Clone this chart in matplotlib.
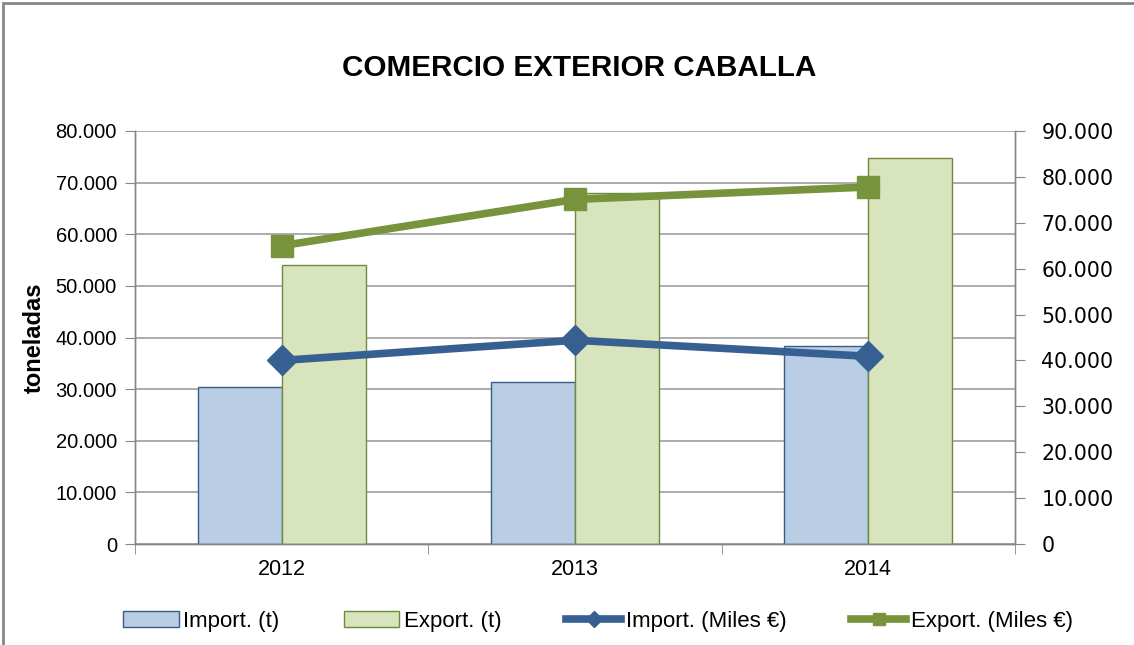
import matplotlib
matplotlib.use("Agg")
import matplotlib.pyplot as plt
import numpy as np
from matplotlib.patches import Rectangle
from matplotlib.ticker import FuncFormatter, FixedLocator

years = ["2012", "2013", "2014"]
import_t = [30500, 31300, 38400]
export_t = [54000, 68000, 74800]
import_eur = [40000, 44400, 40900]
export_eur = [65000, 75100, 77800]

plt.rcParams['font.family'] = ['Liberation Sans', 'DejaVu Sans']

fig = plt.figure(figsize=(11.34, 6.45), dpi=100)
ax = fig.add_axes([135/1134, 101/645, 880/1134, 413/645])
ax2 = ax.twinx()

x = np.arange(len(years))
w = 0.286
ax.bar(x - w/2, import_t, w, color='#b9cde5', edgecolor='#385d8a', linewidth=1, label='Import. (t)', zorder=2)
ax.bar(x + w/2, export_t, w, color='#d7e4bd', edgecolor='#71893f', linewidth=1, label='Export. (t)', zorder=2)

ax2.plot(x, import_eur, color='#376092', linewidth=5.5, marker='D', markersize=15,
         label='Import. (Miles €)', zorder=3)
ax2.plot(x, export_eur, color='#77933c', linewidth=5.5, marker='s', markersize=15.5,
         label='Export. (Miles €)', zorder=3)

ax.set_xlim(-0.5, 2.5)
ax.set_ylim(0, 80000)
ax2.set_ylim(0, 90000)
ax.set_yticks(np.arange(0, 80001, 10000))
ax2.set_yticks(np.arange(0, 90001, 10000))
fmt = FuncFormatter(lambda v, p: f"{int(v):,}".replace(",", "."))
ax.yaxis.set_major_formatter(fmt)
ax2.yaxis.set_major_formatter(fmt)

ax.set_xticks(x)
ax.set_xticklabels(years)
ax.xaxis.set_minor_locator(FixedLocator([-0.5, 0.5, 1.5, 2.5]))
ax.tick_params(axis='x', which='major', length=0, labelsize=15.5, pad=11)
ax.tick_params(axis='x', which='minor', length=7, color='#868686', direction='out')
ax.tick_params(axis='y', length=7, color='#868686', labelsize=14.5, pad=6)
ax2.tick_params(axis='y', length=7, color='#868686', labelsize=14.5, pad=12)
for lab in ax2.get_yticklabels():
    lab.set_family('DejaVu Sans')
    lab.set_fontsize(14.8)

ax.grid(axis='y', color='#a6a6a6', linewidth=1.3, zorder=0)
ax.set_axisbelow(True)
for a in (ax, ax2):
    a.spines['top'].set_visible(False)
    for s in ('left', 'right', 'bottom'):
        a.spines[s].set_color('#868686')
        a.spines[s].set_linewidth(1)

ax.set_ylabel('toneladas', fontsize=17, fontweight='bold')
ax.yaxis.set_label_coords(-(135 - 46) / 880, 0.5)
fig.text(579/1134, 1 - 68/645, 'COMERCIO EXTERIOR CABALLA', ha='center', va='center',
         fontsize=21.3, fontweight='bold')

h1, l1 = ax.get_legend_handles_labels()
h2, l2 = ax2.get_legend_handles_labels()
fig.legend(h1 + h2, l1 + l2, loc='center', bbox_to_anchor=(598/1134, 1 - 621/645), ncol=4,
           frameon=False, fontsize=16, handlelength=2.5, handletextpad=0.2,
           columnspacing=2.9, markerscale=0.55)

fig.patches.append(Rectangle((3/1134, -0.05), 1.1, 0.05 + 1 - 3/645, transform=fig.transFigure,
                             fill=False, edgecolor='#868686', linewidth=2, zorder=10))

fig.savefig('out.png', dpi=100)
